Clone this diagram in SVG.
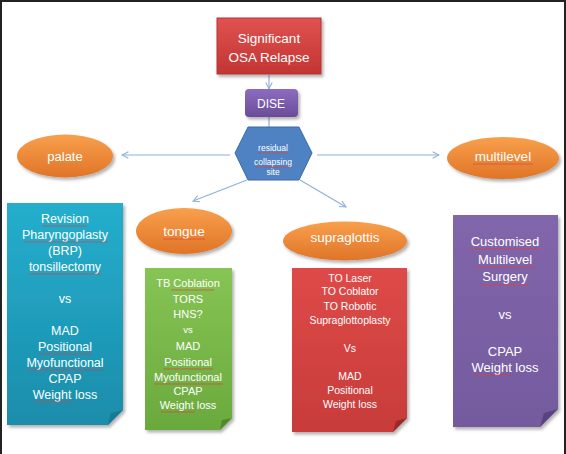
<svg xmlns="http://www.w3.org/2000/svg" width="566" height="454" viewBox="0 0 566 454">
<defs>
<style>
text{font-family:"Liberation Sans",Arial,sans-serif;fill:#fff;text-anchor:middle}
.conn{stroke:#8fb0d8;stroke-width:1.2;fill:none}
.sp{stroke:#e0403c;stroke-width:0.8;fill:none;opacity:.85}
</style>
<filter id="sh" x="-20%" y="-20%" width="140%" height="140%">
<feDropShadow dx="2" dy="2.5" stdDeviation="1.8" flood-color="#000" flood-opacity="0.3"/>
</filter>
<marker id="ar" viewBox="0 0 10 10" refX="9" refY="5" markerWidth="8" markerHeight="8" orient="auto" markerUnits="userSpaceOnUse">
<path d="M1,1 L9,5 L1,9" fill="none" stroke="#8fb0d8" stroke-width="1.3"/>
</marker>
<linearGradient id="gRed" x1="0" y1="0" x2="0" y2="1"><stop offset="0" stop-color="#e05250"/><stop offset="1" stop-color="#c23533"/></linearGradient>
<linearGradient id="gPur" x1="0" y1="0" x2="0" y2="1"><stop offset="0" stop-color="#8d6cc0"/><stop offset="1" stop-color="#6a4c98"/></linearGradient>
<linearGradient id="gOr" x1="0" y1="0" x2="0" y2="1"><stop offset="0" stop-color="#f8a04c"/><stop offset="1" stop-color="#e07428"/></linearGradient>
<linearGradient id="gBlue" x1="0" y1="0" x2="0" y2="1"><stop offset="0" stop-color="#25aecd"/><stop offset="1" stop-color="#1a8dab"/></linearGradient>
<linearGradient id="gGreen" x1="0" y1="0" x2="0" y2="1"><stop offset="0" stop-color="#86c454"/><stop offset="1" stop-color="#6aa93d"/></linearGradient>
<linearGradient id="gRed2" x1="0" y1="0" x2="0" y2="1"><stop offset="0" stop-color="#de4a48"/><stop offset="1" stop-color="#c73c3a"/></linearGradient>
<linearGradient id="gPur2" x1="0" y1="0" x2="0" y2="1"><stop offset="0" stop-color="#8266ab"/><stop offset="1" stop-color="#745a9e"/></linearGradient>
</defs>
<rect x="0" y="0" width="566" height="454" fill="#fff"/>
<path d="M1,454 V1 H565 V454" fill="none" stroke="#222" stroke-width="2"/>

<g id="connectors">
<line class="conn" x1="269" y1="75" x2="269" y2="89" marker-end="url(#ar)"/>
<line class="conn" x1="269" y1="117" x2="269" y2="127"/>
<line class="conn" x1="230" y1="155" x2="122" y2="155" marker-end="url(#ar)"/>
<line class="conn" x1="317" y1="155" x2="439" y2="155" marker-end="url(#ar)"/>
<line class="conn" x1="247" y1="180" x2="193" y2="201" marker-end="url(#ar)"/>
<line class="conn" x1="300" y1="180" x2="346" y2="207" marker-end="url(#ar)"/>
</g>

<g id="relapse">
<rect x="217" y="18" width="104" height="56" fill="url(#gRed)" stroke="#b53230" stroke-width="1" filter="url(#sh)"/>
<text x="269" y="43" font-size="13.5">Significant</text>
<text x="269" y="62" font-size="13.5">OSA Relapse</text>
<path class="sp" d="M261,65 q2,1.5 4,0 t4,0 t4,0 t4,0 t4,0 t4,0 t4,0 t4,0 t4,0 t4,0 t4,0"/>
</g>

<g id="dise">
<rect x="245" y="89" width="53" height="28" rx="4" fill="url(#gPur)" filter="url(#sh)"/>
<text x="271" y="108" font-size="12">DISE</text>
</g>

<g id="site">
<polygon points="235,153 248,127 299,127 312,153 299,180 248,180" fill="#4f82c2" stroke="#3b6aa3" stroke-width="1"/>
<text x="273" y="150.5" font-size="8.5">residual</text>
<text x="273" y="164.5" font-size="8.5">collapsing</text>
<text x="273" y="174.5" font-size="8.5">site</text>
<path class="sp" d="M258,153 h31 M256,167 h34"/>
</g>

<g id="palate">
<ellipse cx="65" cy="156" rx="48" ry="21.5" fill="url(#gOr)" filter="url(#sh)"/>
<text x="65" y="160.5" font-size="13">palate</text>
</g>

<g id="multilevel">
<ellipse cx="503" cy="158" rx="56" ry="21" fill="url(#gOr)" filter="url(#sh)"/>
<text x="503" y="161" font-size="13.5">multilevel</text>
<path class="sp" d="M473,164 h60"/>
</g>

<g id="tongue">
<ellipse cx="184" cy="231" rx="48" ry="23" fill="url(#gOr)" filter="url(#sh)"/>
<text x="184" y="236" font-size="13.5">tongue</text>
<path class="sp" d="M163,239 h42"/>
</g>

<g id="supraglottis">
<ellipse cx="345" cy="241" rx="62" ry="19.5" fill="url(#gOr)" filter="url(#sh)"/>
<text x="345" y="242" font-size="13.5">supraglottis</text>
</g>

<g id="palate-options">
<path d="M7,203 H123 V410 L108,425 H7 Z" fill="url(#gBlue)" filter="url(#sh)"/>
<path d="M123,410 L108,425 L111,413 Z" fill="#157a95"/>
<g font-size="12.5">
<text x="65" y="223">Revision</text>
<text x="65" y="239">Pharyngoplasty</text>
<text x="65" y="255">(BRP)</text>
<text x="65" y="271">tonsillectomy</text>
<text x="65" y="303">vs</text>
<text x="65" y="335">MAD</text>
<text x="65" y="351">Positional</text>
<text x="65" y="367">Myofunctional</text>
<text x="65" y="383">CPAP</text>
<text x="65" y="399">Weight loss</text>
</g>
<path class="sp" d="M43,226 h44 M24,242 h84 M29,274 h72 M39,354 h53 M27,370 h76 M35,402 h37"/>
</g>

<g id="tongue-options">
<path d="M145,268 H232 V418 L220,430 H145 Z" fill="url(#gGreen)" filter="url(#sh)"/>
<path d="M232,418 L220,430 L222,420 Z" fill="#4f8a2a"/>
<g font-size="11">
<text x="188" y="287">TB Coblation</text>
<text x="188" y="303">TORS</text>
<text x="188" y="318">HNS?</text>
<text x="188" y="333" font-size="9.5">vs</text>
<text x="188" y="350">MAD</text>
<text x="188" y="366">Positional</text>
<text x="188" y="381">Myofunctional</text>
<text x="188" y="395">CPAP</text>
<text x="188" y="409">Weight loss</text>
</g>
<path class="sp" d="M171,290 h43 M163,369 h50 M154,384 h69 M161,412 h34"/>
</g>

<g id="supraglottis-options">
<path d="M292,268 H407 V418 L393,432 H292 Z" fill="url(#gRed2)" filter="url(#sh)"/>
<path d="M407,418 L393,432 L396,421 Z" fill="#9a2a28"/>
<g font-size="10.5">
<text x="350" y="282">TO Laser</text>
<text x="350" y="295">TO Coblator</text>
<text x="350" y="310">TO Robotic</text>
<text x="350" y="324">Supraglottoplasty</text>
<text x="350" y="352">Vs</text>
<text x="350" y="380">MAD</text>
<text x="350" y="394">Positional</text>
<text x="350" y="408">Weight loss</text>
</g>
<path class="sp" d="M341,355 h14 M322,411 h31"/>
</g>

<g id="multilevel-options">
<path d="M453,215 H558 V409 L540,427 H453 Z" fill="url(#gPur2)" filter="url(#sh)"/>
<path d="M558,409 L540,427 L544,413 Z" fill="#5a4282"/>
<g font-size="13">
<text x="505" y="246">Customised</text>
<text x="505" y="264">Multilevel</text>
<text x="505" y="281">Surgery</text>
<text x="505" y="319">vs</text>
<text x="505" y="356">CPAP</text>
<text x="505" y="372">Weight loss</text>
</g>
<path class="sp" d="M470,249 h70 M475,267 h61 M482,285 h46 M472,375 h38"/>
</g>
</svg>
